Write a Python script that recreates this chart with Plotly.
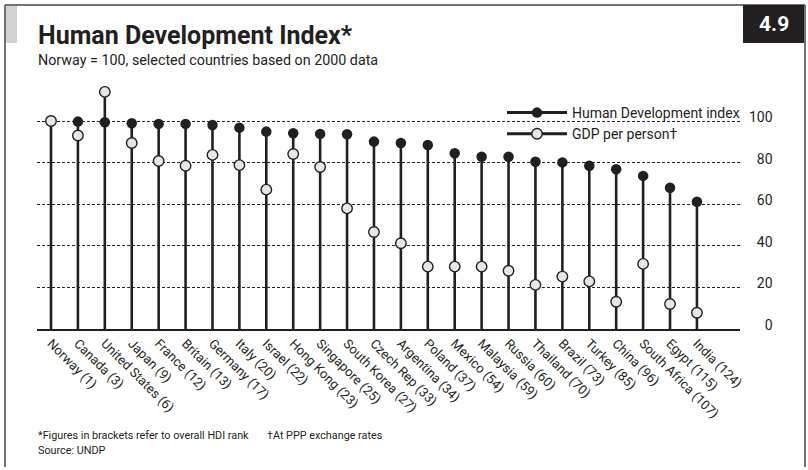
import plotly.graph_objects as go

countries = ["Norway", "Canada", "United States", "Japan", "France", "Britain", "Germany",
             "Italy", "Israel", "Hong Kong", "Singapore", "South Korea", "Czech Rep", "Argentina",
             "Poland", "Mexico", "Malaysia", "Russia", "Thailand", "Brazil", "Turkey", "China",
             "South Africa", "Egypt", "India"]
hdi_rank = [1, 3, 6, 9, 12, 13, 17, 20, 22, 23, 25, 27, 33, 34, 37, 54, 59, 60, 70, 73, 85, 96, 107, 115, 124]
hdi = [100, 99.7, 99.4, 98.9, 98.6, 98.6, 98.1, 96.8, 94.9, 94.1, 93.8, 93.6, 90.1, 89.4,
       88.5, 84.5, 82.8, 82.8, 80.4, 80.1, 78.5, 76.8, 73.6, 67.9, 61.2]
gdp = [100, 93, 114, 89.4, 80.8, 78.5, 83.7, 78.8, 67, 84.1, 77.9, 58, 46.6, 41.2,
       30, 30, 30, 28, 21.2, 25.2, 22.9, 13.1, 31.3, 12.0, 7.8]
y_ticks = [0, 20, 40, 60, 80, 100]

DARK = "#231f20"
FONT = "Roboto"
W_FIG, H_FIG = 808, 470
L, R, T, B = 37, 740, 85, 329  # plot area in page pixels

def px(x):
    return (x - L) / (R - L)

def py(y):
    return (B - y) / (B - T)

labels = [f"{c} ({r})" for c, r in zip(countries, hdi_rank)]
xs = list(range(len(countries)))

stem_x, stem_y = [], []
for i, h, g in zip(xs, hdi, gdp):
    stem_x += [i, i, None]
    stem_y += [0, max(h, g), None]

fig = go.Figure()
fig.add_trace(go.Scatter(x=stem_x, y=stem_y, mode="lines",
                         line=dict(color=DARK, width=2.6), showlegend=False, hoverinfo="skip"))
fig.add_trace(go.Scatter(x=xs, y=hdi, mode="markers", showlegend=False,
                         marker=dict(size=10.5, color=DARK, line=dict(width=0))))
fig.add_trace(go.Scatter(x=xs, y=gdp, mode="markers", showlegend=False,
                         marker=dict(size=10.5, color="#e6e6e6", line=dict(width=1.4, color=DARK))))
# legend entries
fig.add_trace(go.Scatter(x=[None], y=[None], mode="lines+markers", name="Human Development index",
                         line=dict(color=DARK, width=3), marker=dict(size=10.5, color=DARK)))
fig.add_trace(go.Scatter(x=[None], y=[None], mode="lines+markers", name="GDP per person†",
                         line=dict(color=DARK, width=3),
                         marker=dict(size=10.5, color="#e6e6e6", line=dict(width=1.4, color=DARK))))

ymax = (B - T) / ((B - 121) / 100)
fig.update_layout(
    width=W_FIG, height=H_FIG,
    margin=dict(l=L, r=W_FIG - R, t=T, b=H_FIG - B, pad=0),
    paper_bgcolor="white", plot_bgcolor="white",
    font=dict(family=FONT, color=DARK, size=13),
    showlegend=True,
    legend=dict(x=px(502), y=py(97), xanchor="left", yanchor="top",
                bgcolor="rgba(0,0,0,0)", font=dict(size=14, family=FONT, color=DARK),
                tracegroupgap=0, itemwidth=60),
    xaxis=dict(range=[-0.52, 25.6], tickvals=xs, ticktext=labels, tickangle=45,
               showgrid=False, zeroline=False, showline=True, linecolor=DARK, linewidth=1.5,
               ticks="", tickfont=dict(size=13, family=FONT, color=DARK), fixedrange=True),
    yaxis=dict(range=[0, ymax], side="right", tickvals=y_ticks,
               ticktext=["\u2007" * (3 - len(str(v))) + str(v) for v in y_ticks],
               showgrid=True, gridcolor=DARK, gridwidth=1.2, griddash="3px,2px",
               zeroline=False, showline=False, ticks="", ticklabelstandoff=8, ticklabelshift=-4,
               tickfont=dict(size=14, family=FONT, color=DARK), fixedrange=True),
)

shapes = [
    # frame
    dict(type="line", xref="paper", yref="paper", x0=px(5), x1=px(805), y0=py(5), y1=py(5),
         line=dict(color="#444444", width=1.5)),
    dict(type="line", xref="paper", yref="paper", x0=px(5), x1=px(5), y0=py(5), y1=py(467),
         line=dict(color="#444444", width=1.5)),
    dict(type="line", xref="paper", yref="paper", x0=px(805), x1=px(805), y0=py(5), y1=py(467),
         line=dict(color="#444444", width=1.5)),
    # grey tab
    dict(type="rect", xref="paper", yref="paper", x0=px(6), x1=px(17), y0=py(6), y1=py(43),
         fillcolor="#d2d2d2", line=dict(width=0)),
    # black number box
    dict(type="rect", xref="paper", yref="paper", x0=px(743), x1=px(804), y0=py(5), y1=py(43),
         fillcolor=DARK, line=dict(width=0)),
    # white area behind legend (hides gridline)
    dict(type="rect", xref="paper", yref="paper", x0=px(487), x1=px(740), y0=py(102), y1=py(142),
         fillcolor="white", line=dict(width=0), layer="between"),
]
fig.update_layout(shapes=shapes)

annotations = [
    dict(text="<b>Human Development Index*</b>", x=px(36), y=py(35), xanchor="left", yanchor="middle",
         font=dict(size=25, family=FONT, color=DARK)),
    dict(text="Norway = 100, selected countries based on 2000 data", x=px(36), y=py(60),
         xanchor="left", yanchor="middle", font=dict(size=14.3, family=FONT, color=DARK)),
    dict(text="<b>4.9</b>", x=px(773.5), y=py(24), xanchor="center", yanchor="middle",
         font=dict(size=21, family=FONT, color="white")),
    dict(text="*Figures in brackets refer to overall HDI rank", x=px(36), y=py(436),
         xanchor="left", yanchor="middle", font=dict(size=10.8, family=FONT, color=DARK)),
    dict(text="†At PPP exchange rates", x=px(265), y=py(436),
         xanchor="left", yanchor="middle", font=dict(size=10.8, family=FONT, color=DARK)),
    dict(text="Source: UNDP", x=px(36), y=py(450),
         xanchor="left", yanchor="middle", font=dict(size=10.8, family=FONT, color=DARK)),
]
for a in annotations:
    a.update(xref="paper", yref="paper", showarrow=False)
fig.update_layout(annotations=annotations)

fig.write_html("out.html", config={"displayModeBar": False},
               post_script="document.body.style.margin='0';")
